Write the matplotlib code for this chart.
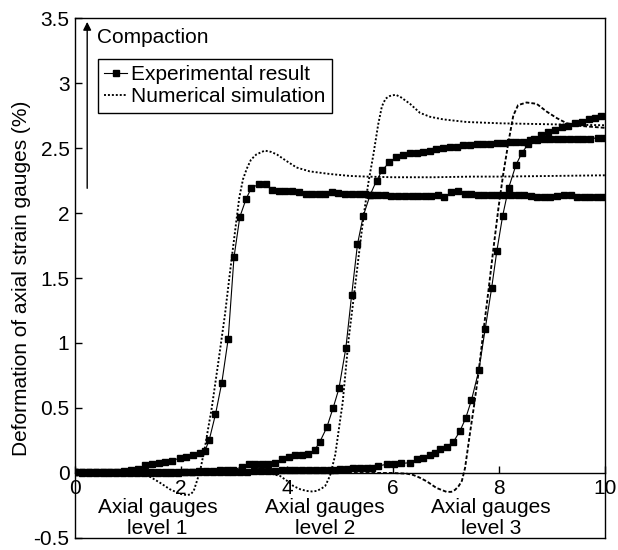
import matplotlib
matplotlib.use("Agg")
import matplotlib.pyplot as plt

plt.rcParams['font.family'] = ['Liberation Sans', 'DejaVu Sans']

# ---------------- data ----------------
exp1_x = [0.00, 0.13, 0.26, 0.40, 0.53, 0.66, 0.79, 0.92, 1.05, 1.18,
          1.32, 1.45, 1.58, 1.70, 1.83, 1.98, 2.10, 2.23, 2.36, 2.45, 2.53, 2.65,
          2.77, 2.89, 3.00, 3.11, 3.23, 3.33,
          3.47, 3.60, 3.72, 3.85, 3.97, 4.10, 4.22, 4.35, 4.47, 4.60, 4.72, 4.85,
          4.97, 5.10, 5.22, 5.35, 5.47, 5.60, 5.72, 5.85, 5.97, 6.10, 6.22, 6.35,
          6.47, 6.60, 6.72, 6.85, 6.97, 7.10, 7.22, 7.35, 7.47, 7.60, 7.72, 7.85,
          7.97, 8.10, 8.22, 8.35, 8.47, 8.60, 8.72, 8.85, 8.97, 9.10, 9.22, 9.35,
          9.47, 9.60, 9.72, 9.85, 9.97]
exp1_y = [0.010, 0.005, 0.005, 0.010, 0.010, 0.010, 0.010, 0.015, 0.020, 0.030,
          0.060, 0.070, 0.075, 0.085, 0.095, 0.115, 0.120, 0.135, 0.150, 0.170, 0.250, 0.450,
          0.695, 1.030, 1.660, 1.970, 2.110, 2.195,
          2.220, 2.220, 2.180, 2.170, 2.170, 2.170, 2.165, 2.150, 2.150, 2.150, 2.145, 2.160,
          2.155, 2.150, 2.150, 2.150, 2.150, 2.140, 2.140, 2.140, 2.130, 2.130, 2.130, 2.130,
          2.130, 2.130, 2.130, 2.140, 2.120, 2.160, 2.170, 2.150, 2.150, 2.140, 2.140, 2.140,
          2.140, 2.140, 2.140, 2.140, 2.140, 2.130, 2.120, 2.120, 2.120, 2.130, 2.140, 2.140,
          2.120, 2.120, 2.120, 2.120, 2.120]

exp2_x = [0.00, 0.13, 0.26, 0.39, 0.52, 0.65, 0.78, 0.91, 1.04, 1.17, 1.30, 1.43,
          1.56, 1.69, 1.82, 1.95, 2.08, 2.21, 2.34, 2.47, 2.60, 2.73, 2.86, 2.99,
          3.15, 3.28, 3.40, 3.53, 3.65, 3.77, 3.90, 4.03, 4.15, 4.28, 4.40, 4.52,
          4.62, 4.75, 4.87, 4.98, 5.11, 5.22, 5.33, 5.44, 5.57, 5.69, 5.80, 5.93,
          6.06, 6.19, 6.32, 6.45, 6.57, 6.70, 6.82, 6.95, 7.08, 7.20, 7.33, 7.45,
          7.58, 7.70, 7.83, 7.96, 8.08, 8.21, 8.33, 8.46, 8.58, 8.71, 8.84, 8.96,
          9.09, 9.21, 9.34, 9.47, 9.59, 9.72, 9.87, 9.98]
exp2_y = [0.010, 0.005, 0.005, 0.005, 0.005, 0.005, 0.005, 0.005, 0.005, 0.005, 0.005, 0.005,
          0.010, 0.010, 0.010, 0.010, 0.010, 0.010, 0.015, 0.015, 0.015, 0.020, 0.020, 0.025,
          0.046, 0.070, 0.072, 0.067, 0.072, 0.080, 0.105, 0.120, 0.140, 0.140, 0.145, 0.175,
          0.240, 0.350, 0.500, 0.650, 0.960, 1.370, 1.760, 1.980, 2.140, 2.250, 2.330, 2.390,
          2.430, 2.450, 2.460, 2.460, 2.470, 2.480, 2.490, 2.500, 2.510, 2.510, 2.520, 2.520,
          2.530, 2.530, 2.530, 2.540, 2.540, 2.550, 2.550, 2.550, 2.560, 2.560, 2.570, 2.570,
          2.570, 2.570, 2.570, 2.570, 2.570, 2.570, 2.580, 2.580]

exp3_x = [0.00, 0.13, 0.26, 0.39, 0.52, 0.65, 0.78, 0.91, 1.04, 1.17, 1.30, 1.43,
          1.56, 1.69, 1.82, 1.95, 2.08, 2.21, 2.34, 2.47, 2.60, 2.73, 2.86, 2.99,
          3.12, 3.25, 3.38, 3.51, 3.64, 3.77, 3.90, 4.03, 4.16, 4.29, 4.42, 4.55,
          4.68, 4.81, 4.90,
          5.00, 5.13, 5.25, 5.38, 5.50, 5.60, 5.72, 5.88, 6.01, 6.16, 6.32, 6.45,
          6.57, 6.70, 6.79, 6.89, 7.01, 7.14, 7.26, 7.37, 7.48, 7.62, 7.74, 7.86,
          7.96, 8.07, 8.18, 8.32, 8.43, 8.55, 8.66, 8.79, 8.93, 9.06, 9.18, 9.31,
          9.43, 9.56, 9.69, 9.81, 9.93]
exp3_y = [0.005, 0.000, 0.000, 0.000, 0.000, 0.000, 0.000, 0.000, 0.000, 0.000, 0.000, 0.000,
          0.000, 0.000, 0.000, 0.000, 0.005, 0.005, 0.005, 0.005, 0.010, 0.010, 0.010, 0.010,
          0.010, 0.010, 0.015, 0.015, 0.015, 0.015, 0.020, 0.020, 0.020, 0.020, 0.025, 0.025,
          0.025, 0.025, 0.025,
          0.028, 0.028, 0.036, 0.041, 0.041, 0.041, 0.054, 0.067, 0.072, 0.074, 0.079, 0.105,
          0.118, 0.138, 0.156, 0.182, 0.200, 0.240, 0.320, 0.420, 0.560, 0.790, 1.110, 1.420,
          1.710, 1.980, 2.190, 2.370, 2.460, 2.530, 2.570, 2.600, 2.620, 2.640, 2.660, 2.670,
          2.690, 2.700, 2.720, 2.730, 2.750]

sim1_x = [0.00, 0.50, 1.00, 1.20, 1.39, 1.60, 1.79, 1.98, 2.10, 2.18, 2.24, 2.30,
          2.36, 2.45, 2.52, 2.58, 2.70, 2.83, 2.92, 3.02, 3.10, 3.17, 3.24, 3.32,
          3.42, 3.58, 3.70, 3.81, 3.99, 4.18, 4.43, 4.81, 5.19, 5.50, 6.00, 6.76,
          7.50, 8.02, 9.00, 10.00]
sim1_y = [0.000, 0.000, 0.000, -0.005, -0.023, -0.074, -0.125, -0.160, -0.170, -0.165, -0.138, -0.062,
          0.015, 0.195, 0.360, 0.500, 0.840, 1.220, 1.530, 1.860, 2.120, 2.260, 2.340, 2.410,
          2.450, 2.480, 2.470, 2.450, 2.400, 2.350, 2.320, 2.300, 2.285, 2.280, 2.275, 2.275,
          2.280, 2.280, 2.285, 2.290]

sim2_x = [0.00, 1.00, 2.00, 3.00, 3.70, 3.87, 4.00, 4.12, 4.25, 4.37, 4.47, 4.56,
          4.65, 4.72, 4.78, 4.82, 4.91, 5.00, 5.05, 5.16, 5.25, 5.35, 5.44, 5.53,
          5.63, 5.72, 5.79, 5.86, 5.94, 6.05, 6.15, 6.32, 6.51, 6.70, 6.95, 7.39,
          8.02, 8.65, 9.28, 10.00]
sim2_y = [0.000, 0.000, 0.000, 0.000, -0.005, -0.023, -0.060, -0.100, -0.125, -0.138, -0.142, -0.138,
          -0.120, -0.100, -0.050, -0.010, 0.140, 0.400, 0.540, 1.020, 1.320, 1.660, 1.960, 2.220,
          2.450, 2.680, 2.820, 2.880, 2.900, 2.910, 2.890, 2.840, 2.770, 2.740, 2.720, 2.700,
          2.690, 2.685, 2.680, 2.675]

sim3_x = [0.00, 2.00, 4.00, 6.00, 6.26, 6.38, 6.50, 6.64, 6.82, 7.01, 7.10, 7.17,
          7.24, 7.30, 7.36, 7.45, 7.53, 7.61, 7.70, 7.80, 7.89, 7.99, 8.08, 8.18,
          8.27, 8.36, 8.52, 8.71, 8.90, 9.09, 9.28, 9.53, 10.00]
sim3_y = [0.000, 0.000, 0.000, 0.000, -0.005, -0.015, -0.035, -0.065, -0.115, -0.145, -0.145, -0.130,
          -0.100, -0.060, 0.040, 0.300, 0.520, 0.760, 1.070, 1.400, 1.710, 2.040, 2.300, 2.550,
          2.750, 2.830, 2.850, 2.840, 2.780, 2.730, 2.690, 2.670, 2.655]

x_ticks = [0, 2, 4, 6, 8, 10]
x_tick_labels = ['0', '2', '4', '6', '8', '10']
y_ticks = [-0.5, 0, 0.5, 1, 1.5, 2, 2.5, 3, 3.5]
y_tick_labels = ['-0.5', '0', '0.5', '1', '1.5', '2', '2.5', '3', '3.5']

level_labels = ['Axial gauges\nlevel 1', 'Axial gauges\nlevel 2', 'Axial gauges\nlevel 3']
level_x = [1.56, 4.72, 7.85]

legend_labels = ['Experimental result', 'Numerical simulation']
y_label = 'Deformation of axial strain gauges (%)'

# ---------------- figure ----------------
FS = 15
fig = plt.figure(figsize=(6.18, 5.5), dpi=100)
ax = fig.add_axes([0.12136, 0.02182, 0.85761, 0.94545])

exp_kw = dict(color='black', lw=0.8, marker='s', ms=4.4, mfc='black', mec='black')
dot_kw = dict(color='black', lw=1.35, linestyle=(0, (1.05, 1.05)))

h_exp, = ax.plot(exp1_x, exp1_y, label=legend_labels[0], **exp_kw)
ax.plot(exp2_x, exp2_y, **exp_kw)
ax.plot(exp3_x, exp3_y, **exp_kw)
h_sim, = ax.plot(sim1_x, sim1_y, label=legend_labels[1], **dot_kw)
ax.plot(sim2_x, sim2_y, **dot_kw)
ax.plot(sim3_x, sim3_y, color='black', lw=1.35, linestyle=(0, (2.0, 1.1)))

ax.set_xlim(0, 10)
ax.set_ylim(-0.5, 3.5)
ax.set_xticks(x_ticks)
ax.set_xticklabels(x_tick_labels)
ax.set_yticks(y_ticks)
ax.set_yticklabels(y_tick_labels)
ax.tick_params(direction='in', length=5, width=1, labelsize=FS, pad=4,
               top=False, right=False)

for s in ax.spines.values():
    s.set_linewidth(1)
ax.spines['bottom'].set_position(('data', 0))
ax.axhline(-0.5, color='black', lw=1, clip_on=False, zorder=5)

ax.set_ylabel(y_label, fontsize=FS)
ax.yaxis.set_label_coords(-0.083, 0.5)

for lx, lt in zip(level_x, level_labels):
    ax.text(lx, -0.195, lt, ha='center', va='top', fontsize=FS, linespacing=1.1)

# compaction arrow
ax.annotate('', xy=(0.23, 3.47), xytext=(0.23, 2.19),
            arrowprops=dict(arrowstyle='-|>', color='black', lw=1,
                            mutation_scale=12, shrinkA=0, shrinkB=0))
ax.text(0.41, 3.31, 'Compaction', ha='left', va='baseline', fontsize=FS)

leg = ax.legend(handles=[h_exp, h_sim], loc='upper left',
                bbox_to_anchor=(0.0434, 0.921), borderaxespad=0,
                fontsize=FS, frameon=True, fancybox=False,
                handlelength=1.1, handletextpad=0.2, borderpad=0.3,
                labelspacing=0.15)
leg.get_frame().set_edgecolor('black')
leg.get_frame().set_linewidth(1)
leg.get_frame().set_alpha(1)

fig.savefig('out.png', dpi=100)
